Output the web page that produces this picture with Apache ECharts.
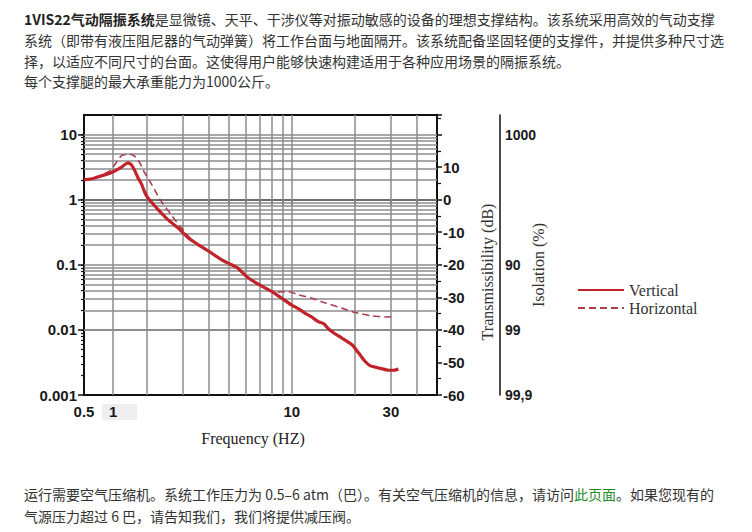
<!DOCTYPE html>
<html><head><meta charset="utf-8">
<script src="https://cdn.jsdelivr.net/npm/echarts@6/dist/echarts.min.js"></script>
<style>
html,body{margin:0;padding:0;background:#fff;}
#wrap{position:relative;width:752px;height:532px;overflow:hidden;background:#fff;}
#chart{position:absolute;left:0;top:0;width:752px;height:532px;}
.p{position:absolute;left:24px;font-family:"Noto Sans CJK SC",sans-serif;font-size:14px;color:#333;white-space:nowrap;}
.p b{color:#222;}
#top{top:9px;line-height:20.8px;}
#bot{top:483px;line-height:22px;}
.p a{color:#1f8a1f;text-decoration:none;}
</style></head>
<body><div id="wrap"><div id="chart"></div>
<div class="p" id="top"><b>1VIS22气动隔振系统</b>是显微镜、天平、干涉仪等对振动敏感的设备的理想支撑结构。该系统采用高效的气动支撑<br>系统（即带有液压阻尼器的气动弹簧）将工作台面与地面隔开。该系统配备坚固轻便的支撑件，并提供多种尺寸选<br>择，以适应不同尺寸的台面。这使得用户能够快速构建适用于各种应用场景的隔振系统。<br>每个支撑腿的最大承重能力为1000公斤。</div>
<div class="p" id="bot">运行需要空气压缩机。系统工作压力为 0.5–6 atm（巴）。有关空气压缩机的信息，请访问<a>此页面</a>。如果您现有的<br>气源压力超过 6 巴，请告知我们，我们将提供减压阀。</div>
</div>
<script>
// ---- data ----
const freqV  = [1.0, 1.08, 1.2, 1.35, 1.49, 1.58, 1.63, 1.69, 1.76, 1.82, 1.89, 1.96, 2.03, 2.15, 2.28, 2.54, 2.84, 3.0, 3.18, 3.55, 4.0, 4.6, 5.0, 5.5, 6.05, 7.0, 8.0, 8.9, 10.0, 10.8, 11.6, 12.4, 13.4, 14.3, 15.0, 16.0, 17.4, 19.5, 21.0, 22.5, 23.9, 26.2, 29.2, 31.0, 32.6];
const transV = [2.03, 2.08, 2.3, 2.6, 3.05, 3.5, 3.67, 3.45, 2.75, 2.16, 1.75, 1.3, 1.06, 0.86, 0.70, 0.49, 0.367, 0.31, 0.257, 0.203, 0.16, 0.119, 0.104, 0.089, 0.066, 0.049, 0.039, 0.031, 0.024, 0.021, 0.018, 0.016, 0.0134, 0.0124, 0.0104, 0.0089, 0.0075, 0.0059, 0.0044, 0.0033, 0.0028, 0.0026, 0.0024, 0.0024, 0.0025];
const freqH  = [1.0, 1.1, 1.2, 1.33, 1.42, 1.51, 1.6, 1.69, 1.79, 1.88, 1.96, 2.08, 2.19, 2.3, 2.45, 2.6, 2.74, 2.94, 3.2, 3.55, 4.0, 4.6, 5.5, 6.05, 7.0, 8.0, 8.5, 9.6, 10.8, 12.4, 14.5, 17.4, 20.2, 24.3, 28.0, 31.6];
const transH = [2.03, 2.1, 2.35, 2.75, 3.6, 4.7, 4.95, 4.95, 4.4, 3.4, 2.57, 1.9, 1.42, 1.05, 0.79, 0.62, 0.49, 0.37, 0.27, 0.203, 0.16, 0.119, 0.089, 0.066, 0.049, 0.039, 0.038, 0.039, 0.0345, 0.031, 0.026, 0.0216, 0.0185, 0.0164, 0.0158, 0.016];

// axis ticks / labels
const xLabelValues = [1, 1.38, 10, 30];
const xLabelTexts  = ['0.5', '1', '10', '30'];
const xGridValues  = [1.38, 2, 3, 4, 5, 6, 7, 8, 9, 10, 20, 30, 40];
const yLabelValues = [0.001, 0.01, 0.1, 1, 10];
const yLabelTexts  = ['0.001', '0.01', '0.1', '1', '10'];
const yGridValues  = [0.002,0.003,0.004,0.005,0.006,0.007,0.008,0.009,0.01,
                      0.02,0.03,0.04,0.05,0.06,0.07,0.08,0.09,0.1,
                      0.2,0.3,0.4,0.5,0.6,0.7,0.8,0.9,1,
                      2,3,4,5,6,7,8,9,10];
const dbLabelValues = [-60, -50, -40, -30, -20, -10, 0, 10];
const isoLabelValues = [0.001, 0.01, 0.1, 10];
const isoLabelTexts  = ['99,9', '99', '90', '1000'];
const xMin = 1, xMax = 50, yMin = 0.001, yMax = 20;

function nearestLabel(v, vals, texts) {
  let best = -1, bd = Infinity;
  for (let i = 0; i < vals.length; i++) {
    const d = Math.abs(Math.log10(v) - Math.log10(vals[i]));
    if (d < bd) { bd = d; best = i; }
  }
  return bd < 0.02 ? texts[best] : '';
}

const chart = echarts.init(document.getElementById('chart'), null, {renderer: 'svg'});
const tickFont = {fontFamily: '"Liberation Sans", Arial, sans-serif', fontWeight: 'bold', fontSize: 15, color: '#1a1a1a'};
const serif = '"Liberation Serif", "DejaVu Serif", serif';

const option = {
  animation: false,
  backgroundColor: 'transparent',
  grid: {left: 84, top: 115, width: 353, height: 280, show: true, borderColor: '#111', borderWidth: 2, backgroundColor: 'transparent'},
  legend: {
    data: ['Vertical', 'Horizontal'], orient: 'vertical', left: 572, top: 277,
    itemWidth: 46, itemHeight: 14, itemGap: 2,
    itemStyle: {opacity: 0},
    textStyle: {fontFamily: serif, fontSize: 16, color: '#333'}
  },
  xAxis: {
    type: 'log', logBase: 10, min: xMin, max: xMax,
    axisLine: {show: true, lineStyle: {color: '#111', width: 2}},
    axisTick: {show: true, customValues: xGridValues, length: 5, inside: false, lineStyle: {color: '#111', width: 1.5}},
    axisLabel: Object.assign({customValues: xLabelValues, margin: 9,
      formatter: v => nearestLabel(v, xLabelValues, xLabelTexts)}, tickFont),
    splitLine: {show: false}, minorTick: {show: false}, minorSplitLine: {show: false}
  },
  yAxis: [
    {
      type: 'log', logBase: 10, min: yMin, max: yMax, position: 'left',
      axisLine: {show: true, lineStyle: {color: '#111', width: 2}},
      axisTick: {show: true, customValues: yLabelValues, length: 6, inside: false, lineStyle: {color: '#111', width: 1.5}},
      axisLabel: Object.assign({customValues: yLabelValues, margin: 7,
        formatter: v => nearestLabel(v, yLabelValues, yLabelTexts)}, tickFont),
      splitLine: {show: false}
    },
    {
      type: 'value', min: -60, max: 20 * Math.log10(yMax), interval: 10, position: 'right',
      axisLine: {show: true, lineStyle: {color: '#111', width: 2}},
      axisTick: {show: true, length: 5, inside: false, lineStyle: {color: '#111', width: 1.5}},
      minorTick: {show: true, splitNumber: 2, length: 4, lineStyle: {color: '#111', width: 1.2}},
      axisLabel: Object.assign({margin: 6,
        formatter: v => dbLabelValues.indexOf(Math.round(v)) >= 0 && Math.abs(v - Math.round(v)) < 1e-6 ? String(Math.round(v)) : ''}, tickFont),
      splitLine: {show: false}
    },
    {
      type: 'log', logBase: 10, min: yMin, max: yMax, position: 'right', offset: 63,
      axisLine: {show: true, lineStyle: {color: '#111', width: 1.5}},
      axisTick: {show: false},
      axisLabel: Object.assign({customValues: isoLabelValues, margin: 5,
        formatter: v => nearestLabel(v, isoLabelValues, isoLabelTexts)}, tickFont, {fontSize: 14}),
      splitLine: {show: false}
    },
    {
      type: 'log', logBase: 10, min: yMin, max: yMax, position: 'left', offset: 0,
      axisLine: {show: false},
      axisTick: {show: true, customValues: yGridValues, length: 3, inside: false, lineStyle: {color: '#111', width: 1.2}},
      axisLabel: {show: false},
      splitLine: {show: false}
    }
  ],
  graphic: [
    {type: 'rect', left: 102, top: 404, shape: {width: 35, height: 16}, style: {fill: '#eeeeee'}, z: -1},
    {type: 'text', x: 253, y: 438, style: {text: 'Frequency (HZ)', font: '16px ' + serif, fill: '#222', textAlign: 'center', textVerticalAlign: 'middle'}},
    {type: 'text', x: 487, y: 272, rotation: Math.PI / 2, style: {text: 'Transmissibility (dB)', font: '16px ' + serif, fill: '#333', textAlign: 'center', textVerticalAlign: 'middle'}},
    {type: 'text', x: 538, y: 265, rotation: Math.PI / 2, style: {text: 'Isolation (%)', font: '16px ' + serif, fill: '#333', textAlign: 'center', textVerticalAlign: 'middle'}}
  ],
  series: [
    {
      name: 'gridlines', type: 'line', data: [], silent: true, z: 1,
      markLine: {
        silent: true, symbol: 'none', z: 1, animation: false,
        label: {show: false},
        lineStyle: {color: '#8c8c8c', width: 1.5, type: 'solid'},
        emphasis: {disabled: true},
        data: xGridValues.map(v => ({xAxis: v})).concat(yGridValues.map(v => ({yAxis: v})))
      }
    },
    {
      name: 'Horizontal', type: 'line', z: 3, showSymbol: false, symbol: 'none', smooth: 0.15,
      data: freqH.map((f, i) => [f, transH[i]]),
      lineStyle: {color: '#a8404f', width: 1.6, type: [7, 4]},
      itemStyle: {color: '#a8404f'}
    },
    {
      name: 'Vertical', type: 'line', z: 4, showSymbol: false, symbol: 'none', smooth: 0.15,
      data: freqV.map((f, i) => [f, transV[i]]),
      lineStyle: {color: '#c1232b', width: 3.2},
      itemStyle: {color: '#b01e2e'}
    }
  ]
};
chart.setOption(option);
</script>
</body></html>
